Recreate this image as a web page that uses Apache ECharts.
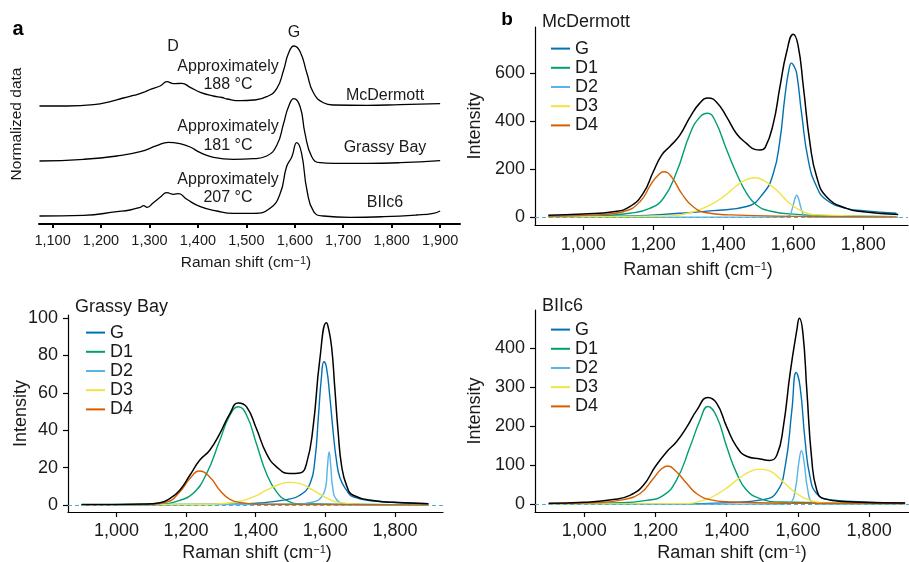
<!DOCTYPE html>
<html>
<head>
<meta charset="utf-8">
<title>Raman spectra</title>
<script src="https://cdn.jsdelivr.net/npm/echarts@6/dist/echarts.min.js"></script>
<style>
  html, body { margin: 0; padding: 0; background: #fff; }
  #chart { width: 909px; height: 562px; }
</style>
</head>
<body>
<div id="chart"></div>
<script>
// panel a: normalized spectra, stacked (units above the axis line)
var mcdermottRaw = [[1073,118],[1130,118],[1185,119.3],[1219,122.3],[1246,126],[1262,128],[1274,129.3],[1290,132],[1302,134.7],[1322,138],[1336,142.3],[1350,140.3],[1367,140.7],[1384,136.7],[1405,131.7],[1432,128],[1450,126.5],[1460,125],[1487,123.3],[1515,124],[1542,127.3],[1563,135.7],[1577,154],[1587,170.7],[1598,178],[1611,172.3],[1625,150.7],[1639,130.7],[1659,121.3],[1680,119],[1749,118.7],[1817,119.3],[1900,120.3]];
var grassyBayRaw = [[1073,63],[1164,64.7],[1233,68],[1281,72.3],[1315,78.3],[1339,81.7],[1363,80.3],[1384,77],[1405,71.3],[1432,66.7],[1473,64.7],[1515,65.3],[1542,68],[1563,79],[1577,100.7],[1587,117.3],[1598,125.3],[1611,117.3],[1621,90.7],[1635,67.3],[1652,61.3],[1680,60.7],[1749,60.7],[1817,61.3],[1900,63.3]];
var biic6Raw = [[1073,8],[1164,8.7],[1233,12.3],[1260,14],[1281,16.7],[1288,18.3],[1295,16.7],[1308,21.3],[1322,26.7],[1336,31.3],[1350,29.7],[1360,30.3],[1377,24.7],[1405,17.3],[1439,13],[1473,10.7],[1515,10.7],[1549,15.7],[1570,30.7],[1583,57.3],[1594,67.3],[1604,81.3],[1614,70.7],[1625,34],[1639,12.3],[1659,8],[1714,6.7],[1783,7.3],[1851,9],[1886,10.7],[1900,13]];

// panel b: peak fits, McDermott
var mcdG = [[900,1.4],[1133,5.5],[1276,16.5],[1371,27.6],[1467,45],[1514,99],[1543,182],[1562,320],[1576,499],[1588,615],[1595,640],[1603,625],[1610,596],[1624,430],[1643,237],[1667,127],[1695,72],[1752,37],[1800,27.6],[1895,16.5]];
var mcdD1 = [[900,2.8],[1038,5.5],[1133,16.5],[1190,37],[1229,79],[1267,189],[1305,347],[1333,416],[1355,432],[1376,403],[1410,279],[1438,182],[1467,99],[1495,51],[1533,26],[1610,12],[1705,7],[1895,2.8]];
var mcdD2 = [[900,0],[1500,0.5],[1580,2],[1590,8],[1598,40],[1605,78],[1610,92],[1615,78],[1622,40],[1630,8],[1640,1],[1900,0]];
var mcdD3 = [[900,1.4],[1229,5.5],[1305,19],[1362,51],[1400,85],[1438,131],[1467,157],[1490,164],[1514,154],[1552,113],[1590,58],[1629,23],[1667,10],[1895,2.8]];
var mcdD4 = [[900,4],[1038,10],[1114,23],[1162,65],[1195,141],[1214,175],[1230,189],[1252,168],[1281,99],[1314,44],[1352,19],[1419,10],[1610,4],[1895,1.4]];
var mcdTotal = [[900,8.3],[1000,14],[1086,23],[1133,44],[1171,99],[1200,189],[1224,258],[1248,295],[1276,341],[1305,416],[1333,474],[1357,495],[1381,478],[1410,416],[1438,347],[1467,306],[1490,282],[1505,279],[1520,290],[1543,389],[1562,541],[1581,685],[1600,760],[1614,713],[1629,541],[1648,306],[1667,168],[1695,85],[1752,37],[1800,23],[1900,12]];

// Grassy Bay
var gbG = [[900,0],[1316,0.4],[1412,1.1],[1489,2.9],[1527,5.2],[1556,11.4],[1570,23.9],[1580,47],[1589,68.6],[1596,76.6],[1603,73.9],[1613,57.9],[1623,38.2],[1632,23.9],[1642,14.6],[1661,7.9],[1680,4.3],[1747,2],[1896,0.7]];
var gbD1 = [[900,0],[1125,0.4],[1182,2.5],[1220,6.1],[1259,16.8],[1297,34.6],[1326,48],[1350,52.5],[1374,48],[1402,32.9],[1431,16.8],[1460,7],[1489,2.5],[1527,0.7],[1896,0]];
var gbD2 = [[900,0],[1508,0.4],[1565,1.6],[1589,4.3],[1601,9.6],[1606,20],[1611,28.4],[1616,20],[1621,9.6],[1632,2.9],[1661,0.7],[1896,0]];
var gbD3 = [[900,0],[1268,0.4],[1345,1.6],[1393,4.3],[1431,7.9],[1469,11.1],[1498,12.1],[1527,11.4],[1565,7.9],[1603,3.75],[1642,1.25],[1699,0.4],[1896,0]];
var gbD4 = [[900,0],[1077,0.2],[1144,1.6],[1182,7],[1211,14.1],[1238,18.2],[1268,15],[1297,7.9],[1326,3],[1364,1.1],[1412,0.4],[1896,0]];
var gbTotal = [[900,0.2],[1077,0.5],[1125,1.25],[1153,3.4],[1182,7.9],[1211,15.9],[1239,23.9],[1268,29.3],[1297,38.2],[1326,48.9],[1350,54.6],[1374,52.5],[1402,40.9],[1431,27.5],[1460,20.4],[1498,16.8],[1527,17.1],[1546,22.1],[1565,41.8],[1584,77.5],[1603,97.5],[1608,95.4],[1618,84.6],[1627,63.2],[1637,38.6],[1647,20.7],[1661,10.5],[1680,5.2],[1747,2.1],[1795,1.4],[1896,0.7]];

// BIIc6
var bG = [[900,0],[1222,0.9],[1409,4.3],[1503,12],[1541,31.6],[1564,96],[1583,241],[1595,337],[1606,301],[1620,164],[1634,70],[1653,27],[1690,12],[1784,6],[1901,3.4]];
var bD1 = [[900,0.9],[1081,3.4],[1175,10],[1222,23],[1259,62],[1297,147],[1325,215],[1347,250],[1372,224],[1400,147],[1428,79],[1456,36],[1494,14.5],[1550,6],[1901,1.7]];
var bD2 = [[900,0],[1560,0.5],[1580,5],[1593,40],[1603,110],[1610,137],[1617,110],[1627,40],[1640,5],[1660,0.5],[1901,0]];
var bD3 = [[900,0],[1269,1.7],[1334,10],[1391,36],[1428,62],[1466,84],[1494,90],[1522,85],[1559,57],[1597,27],[1634,10],[1672,3.4],[1901,0.9]];
var bD4 = [[900,1.7],[1035,4.3],[1110,12],[1156,27],[1194,66],[1217,91],[1234,98],[1259,83],[1288,53],[1316,27],[1353,12],[1409,6],[1597,2.6],[1901,1.7]];
var bTotal = [[900,2.6],[1000,5.1],[1081,12],[1128,23],[1166,49],[1199,96],[1231,134],[1259,160],[1288,198],[1316,241],[1347,273],[1372,258],[1400,198],[1428,147],[1456,123],[1494,116],[1520,112],[1541,126],[1559,198],[1578,335],[1597,446],[1604,476],[1614,438],[1625,292],[1639,113],[1653,36],[1672,14.5],[1737,6.8],[1901,3.4]];

var components = ['G', 'D1', 'D2', 'D3', 'D4'];
var compColors = ['#0072B2', '#009E73', '#56B4E9', '#F0E442', '#D55E00'];
var ticksA = [1100, 1200, 1300, 1400, 1500, 1600, 1700, 1800, 1900];
var ticksFit = [1000, 1200, 1400, 1600, 1800];
var yTicksMcd = [0, 200, 400, 600];
var yTicksGB = [0, 20, 40, 60, 80, 100];
var yTicksB = [0, 100, 200, 300, 400];

var FONT = "'Liberation Sans', Arial, Helvetica, sans-serif";
var INK = '#1a1a1a';

function xAx(gi, min, max, ticks, fs, margin, tickLen, lw) {
    return {
        type: 'value', gridIndex: gi, min: min, max: max,
        splitLine: { show: false },
        axisLine: { show: true, onZero: false, lineStyle: { color: '#000', width: lw } },
        axisTick: { show: true, inside: false, length: tickLen, customValues: ticks, lineStyle: { color: '#000', width: lw } },
        axisLabel: { customValues: ticks, margin: margin, fontSize: fs, color: INK, fontFamily: FONT,
            formatter: function (v) { return v.toLocaleString('en-US'); } }
    };
}

function yAx(gi, min, max, ticks) {
    return {
        type: 'value', gridIndex: gi, min: min, max: max,
        name: 'Intensity', nameLocation: 'middle', nameGap: 51, nameMoveOverlap: false,
        nameTextStyle: { fontSize: 18, color: INK, fontFamily: FONT },
        splitLine: { show: false },
        axisLine: { show: true, onZero: false, lineStyle: { color: '#000', width: 1.2 } },
        axisTick: { show: true, inside: false, length: 5, customValues: ticks, lineStyle: { color: '#000', width: 1.2 } },
        axisLabel: { customValues: ticks, margin: 10, fontSize: 18, color: INK, fontFamily: FONT }
    };
}

function line(name, data, color, idx, width) {
    return {
        type: 'line', name: name, data: data, xAxisIndex: idx, yAxisIndex: idx,
        symbol: 'none', showSymbol: false, smooth: 0.5,
        lineStyle: { color: color, width: width }, itemStyle: { color: color },
        silent: true, animation: false
    };
}

var series = [
    line('McDermott', mcdermottRaw, '#000', 0, 1.3),
    line('Grassy Bay', grassyBayRaw, '#000', 0, 1.3),
    line('BIIc6', biic6Raw, '#000', 0, 1.3)
];

var fits = [
    [mcdG, mcdD1, mcdD2, mcdD3, mcdD4, mcdTotal],
    [gbG, gbD1, gbD2, gbD3, gbD4, gbTotal],
    [bG, bD1, bD2, bD3, bD4, bTotal]
];
fits.forEach(function (set, k) {
    var idx = k + 1;
    components.forEach(function (c, i) {
        series.push(line(c, set[i], compColors[i], idx, 1.4));
    });
    var tot = line('Total', set[5], '#000', idx, 1.5);
    tot.markLine = {
        silent: true, symbol: 'none', label: { show: false },
        lineStyle: { type: [4, 3], color: '#4fb0d4', width: 1.2 },
        data: [{ yAxis: 0 }]
    };
    series.push(tot);
});

var yA = {
    type: 'value', gridIndex: 0, min: 0, max: 200,
    name: 'Normalized data', nameLocation: 'middle', nameGap: 14,
    nameTextStyle: { fontSize: 15.5, color: INK, fontFamily: FONT },
    axisLine: { show: false }, axisTick: { show: false }, axisLabel: { show: false },
    splitLine: { show: false }
};

var yGB = yAx(2, -3.75, 101.6, yTicksGB);
yGB.nameGap = 38;

function legendAt(left, top) {
    return {
        data: components, orient: 'vertical', left: left, top: top,
        icon: 'rect', itemWidth: 19, itemHeight: 2, itemGap: 0,
        selectedMode: false,
        textStyle: { fontSize: 18, lineHeight: 19.2, color: INK, fontFamily: FONT }
    };
}

function txt(x, y, text, size, extra) {
    var s = { text: text, fontSize: size, fontFamily: FONT, fill: INK, align: 'center', verticalAlign: 'middle' };
    if (extra) { for (var k in extra) s[k] = extra[k]; }
    return { type: 'text', x: x, y: y, style: s, silent: true };
}

var ramanRich = { sup: { fontSize: 11, verticalAlign: 'top', fill: INK, fontFamily: FONT } };
function ramanName(x, y, size) {
    return txt(x, y, 'Raman shift (cm{sup|\u22121})', size, { rich: ramanRich });
}

var option = {
    backgroundColor: '#fff',
    animation: false,
    grid: [
        { left: 39, top: 24, width: 421, height: 200 },
        { left: 535, top: 27, width: 373, height: 198 },
        { left: 68, top: 315, width: 375, height: 197 },
        { left: 535, top: 310, width: 374, height: 202 }
    ],
    xAxis: [
        xAx(0, 1072, 1941, ticksA, 14.5, 9, 4, 2),
        xAx(1, 862, 1928, ticksFit, 18, 11, 5, 1.2),
        xAx(2, 861, 1938, ticksFit, 18, 10, 5, 1.2),
        xAx(3, 861.5, 1912, ticksFit, 18, 10, 5, 1.2)
    ],
    yAxis: [
        yA,
        yAx(1, -32, 790, yTicksMcd),
        yGB,
        yAx(3, -19.7, 497, yTicksB)
    ],
    legend: [legendAt(546, 34), legendAt(81, 318), legendAt(546, 315)],
    graphic: [
        txt(18, 29, 'a', 20, { fontWeight: 'bold', fill: '#000' }),
        txt(507, 20, 'b', 19, { fontWeight: 'bold', fill: '#000' }),
        txt(173, 47, 'D', 16),
        txt(294, 33, 'G', 16),
        txt(228, 67, 'Approximately', 16),
        txt(228, 85, '188 °C', 16),
        txt(228, 127, 'Approximately', 16),
        txt(228, 146, '181 °C', 16),
        txt(228, 180, 'Approximately', 16),
        txt(228, 198, '207 °C', 16),
        txt(385, 96, 'McDermott', 16),
        txt(385, 148, 'Grassy Bay', 16),
        txt(385, 203, 'BIIc6', 16),
        ramanName(246, 263, 15.5),
        ramanName(698, 270, 18),
        ramanName(257, 553, 18),
        ramanName(732, 553, 18),
        txt(542, 22, 'McDermott', 18, { align: 'left' }),
        txt(75, 307, 'Grassy Bay', 18, { align: 'left' }),
        txt(542, 306, 'BIIc6', 18, { align: 'left' })
    ],
    series: series
};

var chart = echarts.init(document.getElementById('chart'), null, { renderer: 'canvas' });
chart.setOption(option);
</script>
</body>
</html>
